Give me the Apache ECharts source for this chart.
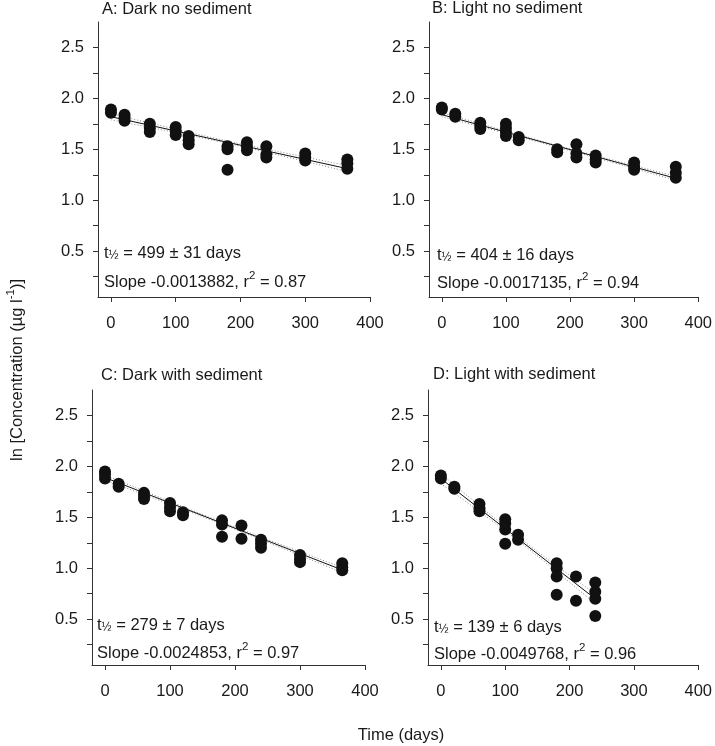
<!DOCTYPE html>
<html>
<head>
<meta charset="utf-8">
<script src="https://cdn.jsdelivr.net/npm/echarts@6/dist/echarts.min.js"></script>
<style>
html,body{margin:0;padding:0;background:#fff;}
#chart{width:715px;height:746px;}
</style>
</head>
<body>
<div id="chart"></div>
<script>
// ---------- Data ----------
const panelTitles = ['A: Dark no sediment', 'B: Light no sediment', 'C: Dark with sediment', 'D: Light with sediment'];
const halfLives = ['499 ± 31 days', '404 ± 16 days', '279 ± 7 days', '139 ± 6 days'];
const slopeTexts = ['-0.0013882', '-0.0017135', '-0.0024853', '-0.0049768'];
const r2Texts = ['0.87', '0.94', '0.97', '0.96'];

const xTicks = [0, 100, 200, 300, 400];
const yTicks = [0.25, 0.5, 0.75, 1.0, 1.25, 1.5, 1.75, 2.0, 2.25, 2.5];
const yLabels = [0.5, 1.0, 1.5, 2.0, 2.5];

// Panel A: Dark no sediment
const daysA = [0,0, 21,21,21, 60,60,60, 100,100,100, 120,120,120, 180,180,180, 210,210,210, 240,240,240, 300,300,300, 365,365,365];
const concA = [1.89,1.86, 1.84,1.81,1.78, 1.75,1.71,1.67, 1.72,1.68,1.64, 1.63,1.59,1.55, 1.53,1.50,1.30, 1.57,1.53,1.49, 1.53,1.45,1.42, 1.46,1.42,1.39, 1.40,1.36,1.31];
const fitDaysA = [0, 365];
const fitA = [1.82, 1.31];
const ciDaysA = [0, 90, 180, 270, 365];
const ciUpA = [1.850, 1.713, 1.582, 1.463, 1.340];
const ciLoA = [1.790, 1.677, 1.558, 1.427, 1.280];

// Panel B: Light no sediment
const daysB = [0,0, 21,21, 60,60,60, 100,100,100,100, 120,120, 180,180, 210,210,210, 240,240,240, 300,300,300, 365,365,365];
const concB = [1.91,1.89, 1.85,1.82, 1.76,1.73,1.70, 1.75,1.71,1.67,1.63, 1.62,1.59, 1.50,1.47, 1.55,1.46,1.42, 1.44,1.40,1.37, 1.37,1.33,1.30, 1.33,1.27,1.22];
const fitDaysB = [0, 365];
const fitB = [1.84, 1.215];
const ciDaysB = [0, 90, 180, 270, 365];
const ciUpB = [1.860, 1.698, 1.538, 1.389, 1.235];
const ciLoB = [1.820, 1.674, 1.522, 1.365, 1.195];

// Panel C: Dark with sediment
const daysC = [0,0,0, 21,21, 60,60,60, 100,100,100, 120,120, 180,180,180, 210,210, 240,240,240, 300,300,300, 365,365,365];
const concC = [1.95,1.92,1.88, 1.83,1.80, 1.74,1.71,1.68, 1.64,1.60,1.56, 1.55,1.52, 1.47,1.43,1.31, 1.42,1.29, 1.28,1.24,1.20, 1.13,1.09,1.06, 1.05,1.01,0.98];
const fitDaysC = [0, 365];
const fitC = [1.89, 0.983];
const ciDaysC = [0, 90, 180, 270, 365];
const ciUpC = [1.915, 1.681, 1.453, 1.234, 1.008];
const ciLoC = [1.865, 1.651, 1.433, 1.204, 0.958];

// Panel D: Light with sediment
const daysD = [0,0, 21,21, 60,60,60, 100,100,100,100, 120,120, 180,180,180,180, 210,210, 240,240,240,240];
const concD = [1.91,1.88, 1.80,1.78, 1.63,1.59,1.56, 1.48,1.44,1.38,1.24, 1.33,1.28, 1.05,1.00,0.92,0.74, 0.92,0.68, 0.86,0.77,0.70,0.53];
const fitDaysD = [0, 240];
const fitD = [1.88, 0.70];
const ciDaysD = [0, 60, 120, 180, 240];
const ciUpD = [1.930, 1.613, 1.310, 1.023, 0.750];
const ciLoD = [1.830, 1.557, 1.270, 0.967, 0.650];

// ---------- Build ----------
const FONT = "'Liberation Sans', Arial, sans-serif";
const FS = 16.5;
const TXT = '#1a1a1a';
const AX = '#333';

const panels = [
  {days: daysA, conc: concA, fd: fitDaysA, fit: fitA, cd: ciDaysA, up: ciUpA, lo: ciLoA},
  {days: daysB, conc: concB, fd: fitDaysB, fit: fitB, cd: ciDaysB, up: ciUpB, lo: ciLoB},
  {days: daysC, conc: concC, fd: fitDaysC, fit: fitC, cd: ciDaysC, up: ciUpC, lo: ciLoC},
  {days: daysD, conc: concD, fd: fitDaysD, fit: fitD, cd: ciDaysD, up: ciUpD, lo: ciLoD}
];

const grids = [
  {left: 98, top: 22, width: 272, height: 275},
  {left: 429, top: 22, width: 271, height: 275},
  {left: 92, top: 390, width: 273, height: 275},
  {left: 428, top: 390, width: 272, height: 275}
];

const xAxes = grids.map((g, i) => ({
  gridIndex: i, type: 'value', min: -20, max: 400,
  axisLine: {show: true, onZero: false, lineStyle: {color: AX, width: 1}},
  axisTick: {show: true, customValues: xTicks, length: 5, lineStyle: {color: AX}},
  axisLabel: {customValues: xTicks, margin: 18, fontSize: FS, color: TXT, fontFamily: FONT},
  splitLine: {show: false}
}));

const yAxes = grids.map((g, i) => ({
  gridIndex: i, type: 'value', min: 0.05, max: 2.75,
  axisLine: {show: true, onZero: false, lineStyle: {color: AX, width: 1}},
  axisTick: {show: true, customValues: yTicks, length: 5, lineStyle: {color: AX}},
  axisLabel: {customValues: yLabels, margin: 14, fontSize: FS, color: TXT, fontFamily: FONT,
    formatter: v => Number(v).toFixed(1)},
  splitLine: {show: false}
}));

const series = [];
panels.forEach((p, i) => {
  const ciStyle = {color: '#8a8a8a', width: 1, type: [1, 2]};
  series.push({type: 'line', xAxisIndex: i, yAxisIndex: i, data: p.cd.map((d, k) => [d, p.up[k]]),
    smooth: true, showSymbol: false, lineStyle: ciStyle, silent: true, z: 1});
  series.push({type: 'line', xAxisIndex: i, yAxisIndex: i, data: p.cd.map((d, k) => [d, p.lo[k]]),
    smooth: true, showSymbol: false, lineStyle: ciStyle, silent: true, z: 1});
  series.push({type: 'scatter', xAxisIndex: i, yAxisIndex: i, data: p.days.map((d, k) => [d, p.conc[k]]),
    symbol: 'circle', symbolSize: 12, itemStyle: {color: '#111', opacity: 1}, z: 2});
  series.push({type: 'line', xAxisIndex: i, yAxisIndex: i, data: p.fd.map((d, k) => [d, p.fit[k]]),
    showSymbol: false, lineStyle: {color: '#111', width: 1}, silent: true, z: 3});
});

// Text positions
const titlePos = [[102, 9], [432, 8], [101, 375], [433, 374]];
const halfPos = [[104, 253], [437, 255], [97, 625], [434, 627]];
const slopePos = [[104, 282], [437, 283], [97, 653], [434, 654]];

const base = {fontSize: FS, fontFamily: FONT, fill: TXT, color: TXT, verticalAlign: 'middle'};
const graphics = [];
panelTitles.forEach((t, i) => {
  graphics.push({type: 'text', x: titlePos[i][0], y: titlePos[i][1],
    style: {text: t, font: FS + 'px ' + FONT, fill: TXT, textAlign: 'left', textVerticalAlign: 'middle', align: 'left', verticalAlign: 'middle'}});
  graphics.push({type: 'text', x: halfPos[i][0], y: halfPos[i][1],
    style: {text: '{b|t}{sub|½}{b| = ' + halfLives[i] + '}', fill: TXT, textAlign: 'left', textVerticalAlign: 'middle', align: 'left', verticalAlign: 'middle',
      rich: {
        b: Object.assign({}, base, {lineHeight: 18}),
        sub: {fontSize: 12, fontFamily: FONT, fill: TXT, color: TXT, lineHeight: 12, verticalAlign: 'bottom'}
      }}});
  graphics.push({type: 'text', x: slopePos[i][0], y: slopePos[i][1],
    style: {text: '{b|Slope ' + slopeTexts[i] + ', r}{sup|2}{b| = ' + r2Texts[i] + '}', fill: TXT, textAlign: 'left', textVerticalAlign: 'middle', align: 'left', verticalAlign: 'middle',
      rich: {
        b: Object.assign({}, base, {lineHeight: 24}),
        sup: {fontSize: 11.5, fontFamily: FONT, fill: TXT, color: TXT, lineHeight: 11, verticalAlign: 'top'}
      }}});
});

graphics.push({type: 'text', x: 17, y: 370, rotation: Math.PI / 2,
  style: {text: '{b|ln [Concentration (µg l}{sup|-1}{b|)]}', fill: TXT, textAlign: 'center', textVerticalAlign: 'middle', align: 'center', verticalAlign: 'middle',
    rich: {
      b: Object.assign({}, base, {lineHeight: 24}),
      sup: {fontSize: 11.5, fontFamily: FONT, fill: TXT, color: TXT, lineHeight: 11, verticalAlign: 'top'}
    }}});
graphics.push({type: 'text', x: 401, y: 735,
  style: {text: 'Time (days)', font: FS + 'px ' + FONT, fill: TXT, textAlign: 'center', textVerticalAlign: 'middle', align: 'center', verticalAlign: 'middle'}});

const chart = echarts.init(document.getElementById('chart'), null, {renderer: 'canvas'});
chart.setOption({
  animation: false,
  backgroundColor: '#fff',
  textStyle: {fontFamily: FONT},
  grid: grids,
  xAxis: xAxes,
  yAxis: yAxes,
  series: series,
  graphic: graphics
});
</script>
</body>
</html>
